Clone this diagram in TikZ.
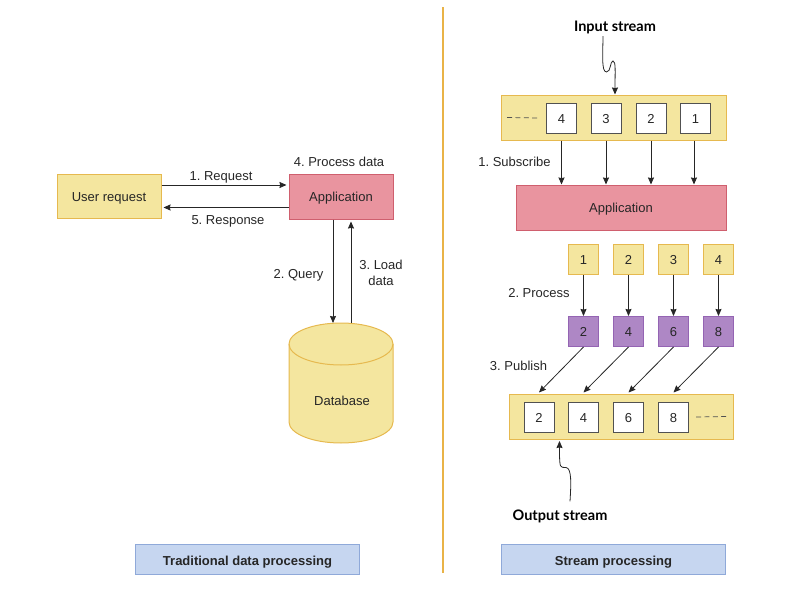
\documentclass[tikz,border=0pt]{standalone}
\usepackage{fontspec}
\setmainfont{Liberation Sans}
\newfontfamily\calloutfont{Lato}
\usepackage{xcolor}
\usetikzlibrary{positioning, arrows.meta, calc}

\definecolor{paleyellow}{HTML}{F4E69F}
\definecolor{edgeyellow}{HTML}{E6B94F}
\definecolor{palered}{HTML}{E9949F}
\definecolor{edgered}{HTML}{CF5F6E}
\definecolor{palepurple}{HTML}{AE87C5}
\definecolor{edgepurple}{HTML}{9464B3}
\definecolor{paleblue}{HTML}{C6D6F0}
\definecolor{edgeblue}{HTML}{8FA9D9}
\definecolor{inkgrey}{HTML}{262626}

\frenchspacing
\begin{document}
\begin{tikzpicture}[
      x=1pt, y=-1pt,
      every node/.style={font=\fontsize{13}{16}\selectfont, text=inkgrey, text height=10pt, text depth=0pt},
      yellowbox/.style={rectangle, draw=edgeyellow, fill=paleyellow, line width=1pt, inner sep=0pt},
      redbox/.style={rectangle, draw=edgered, fill=palered, line width=1pt, inner sep=0pt},
      bluebox/.style={rectangle, draw=edgeblue, fill=paleblue, line width=1pt, inner sep=0pt, minimum width=224pt, minimum height=30pt, text height=13pt, font=\fontsize{13}{16}\selectfont\bfseries},
      token/.style={rectangle, draw=inkgrey!80, fill=white, line width=1pt, minimum width=30pt, minimum height=30pt, inner sep=0pt},
      inbox/.style={yellowbox, minimum width=30pt, minimum height=30pt},
      outbox/.style={rectangle, draw=edgepurple, fill=palepurple, line width=1pt, minimum width=30pt, minimum height=30pt, inner sep=0pt},
      callout/.style={font=\calloutfont\fontsize{14.5}{17}\selectfont\bfseries, text=black},
      trail/.style={draw=inkgrey!80, line width=0.7pt, dash pattern=on 5pt off 3.4pt},
      arrow/.style={-{Stealth[length=7pt,width=6pt,inset=0.6pt]},line width=0.8pt,draw=inkgrey}
    ]
      \useasboundingbox (0,0) rectangle (785,597);

      % Divider
      \coordinate (divtop) at (443,7);
      \coordinate (divbottom) at (443,573);
      \draw[edgeyellow!90!orange, line width=1.4pt] (divtop) -- (divbottom);

      % Traditional side
      \node[yellowbox, minimum width=104pt, minimum height=44pt] (user) at (109,196) {User request};
      \node[redbox, minimum width=104pt, minimum height=45pt] (app) at (341,196.5) {Application};
      \node[minimum width=104pt, minimum height=120pt, inner sep=0pt, outer sep=0pt] (db) at (341,383) {};
      \draw[edgeyellow, fill=paleyellow, line width=1pt] ([yshift=-21pt]db.north west) arc[start angle=180, end angle=0, x radius=52pt, y radius=21pt] -- ([yshift=21pt]db.south east) arc[start angle=360, end angle=180, x radius=52pt, y radius=21pt] -- cycle;
      \draw[edgeyellow, line width=1pt] ([yshift=-21pt]db.north west) arc[start angle=180, end angle=360, x radius=52pt, y radius=21pt];
      \node (dblabel) at (342,400) {Database};

      \draw[arrow] ([yshift=11pt]user.east) -- ([yshift=11.5pt,xshift=-2pt]app.west);
      \draw[arrow] ([yshift=-11pt]app.west) -- ([yshift=-11.5pt,xshift=2pt]user.east);
      \draw[arrow] ([xshift=-8pt]app.south) -- ([xshift=-8pt]db.north);
      \draw[arrow] ([xshift=10pt]db.north) -- ([xshift=10pt,yshift=-2pt]app.south);

      \node (request) at (221,175) {1. Request};
      \node (response) at (228,219.5) {5. Response};
      \node (process) at (339,161) {4. Process data};
      \node (query) at (298.5,273) {2. Query};
      \node[align=center, text height=, text depth=] (load) at (381,273) {3. Load\\data};

      % Input stream
      \node[callout] (inlabel) at (615,26) {Input stream};
      \node[yellowbox, minimum width=225pt, minimum height=45pt] (instream) at (613.5,117.5) {};
      \node[token] (in4) at (561.5,118) {4};
      \node[token] (in3) at (606,118) {3};
      \node[token] (in2) at (651,118) {2};
      \node[token] (in1) at (695.5,118) {1};
      \draw[trail] ([xshift=6.5pt]instream.west) -- ([xshift=-8pt]in4.west);
      \draw[arrow] ([xshift=-12pt,yshift=-1.5pt]inlabel.south) .. controls (603,52) and (601,72) .. (606.5,72) .. controls (611,72) and (610,61) .. (613,61) .. controls (616,61) and (615,72) .. ([xshift=1.5pt]instream.north);

      % Application
      \node[redbox, minimum width=210pt, minimum height=45pt] (apptwo) at (621,207.5) {Application};
      \draw[arrow] (in4.south |- instream.south) -- (in4.south |- apptwo.north);
      \draw[arrow] (in3.south |- instream.south) -- (in3.south |- apptwo.north);
      \draw[arrow] (in2.south |- instream.south) -- (in2.south |- apptwo.north);
      \draw[arrow] ([xshift=-1.5pt]in1.south |- instream.south) -- ([xshift=-1.5pt]in1.south |- apptwo.north);
      \node (subscribe) at (514.5,161) {1. Subscribe};

      % Process
      \node[inbox] (pre1) at (583.5,259.5) {1};
      \node[inbox] (pre2) at (628.5,259.5) {2};
      \node[inbox] (pre3) at (673.5,259.5) {3};
      \node[inbox] (pre4) at (718.5,259.5) {4};
      \node[outbox] (post1) at (583.5,331.5) {2};
      \node[outbox] (post2) at (628.5,331.5) {4};
      \node[outbox] (post3) at (673.5,331.5) {6};
      \node[outbox] (post4) at (718.5,331.5) {8};
      \draw[arrow] (pre1) -- (post1);
      \draw[arrow] (pre2) -- (post2);
      \draw[arrow] (pre3) -- (post3);
      \draw[arrow] (pre4) -- (post4);
      \node (processlabel) at (539,292) {2. Process};

      % Output stream
      \node[yellowbox, minimum width=224pt, minimum height=45pt] (outstream) at (621,416.5) {};
      \node[token] (out2) at (539,417) {2};
      \node[token] (out4) at (583.5,417) {4};
      \node[token] (out6) at (628.5,417) {6};
      \node[token] (out8) at (673.5,417) {8};
      \draw[trail] ([xshift=7pt]out8.east) -- ([xshift=-6pt]outstream.east);
      \draw[arrow] (post1.south) -- ([yshift=1pt]out2.north |- outstream.north);
      \draw[arrow] (post2.south) -- ([yshift=1pt]out4.north |- outstream.north);
      \draw[arrow] (post3.south) -- ([yshift=1pt]out6.north |- outstream.north);
      \draw[arrow] (post4.south) -- ([yshift=1pt]out8.north |- outstream.north);
      \node (publish) at (518.5,365) {3. Publish};
      \node[callout] (outlabel) at (560,515) {Output stream};
      \draw[arrow] ([xshift=10pt,yshift=5pt]outlabel.north) .. controls (571,485) and (572,468) .. (566,467.5) .. controls (560,467) and (559.5,470) .. ([xshift=20.5pt,yshift=-1.5pt]out2.south |- outstream.south);

      % Captions
      \node[bluebox] (tradcaption) at (247.5,559) {Traditional data processing};
      \node[bluebox] (streamcaption) at (613.5,559) {Stream processing};
    \end{tikzpicture}
\end{document}
